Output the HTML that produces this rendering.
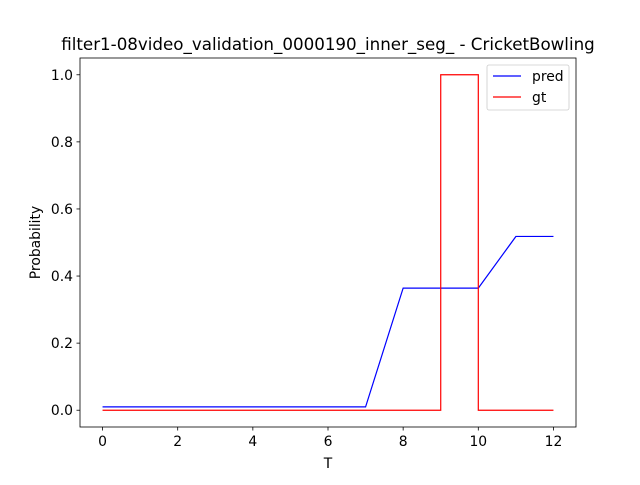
<!DOCTYPE html>
<html><head><meta charset="utf-8"><style>
body{margin:0;background:#fff;}
svg text{font-family:"DejaVu Sans","Liberation Sans",sans-serif;}
</style></head><body>
<svg id="chart" width="640" height="480" xmlns="http://www.w3.org/2000/svg">
<rect width="640" height="480" fill="#fff"/>
<text x="328" y="50" font-size="16.7" text-anchor="middle">filter1-08video_validation_0000190_inner_seg_ - CricketBowling</text>
<g id="plot"></g>
<rect x="80" y="58" width="496" height="369" fill="none" stroke="#000" stroke-width="0.8"/>
<text x="328" y="468" font-size="13.9" text-anchor="middle">T</text>
<text transform="translate(40,242.5) rotate(-90)" font-size="13.9" text-anchor="middle">Probability</text>
<g>
<rect x="487" y="65" width="82" height="45" rx="2" fill="#fff" fill-opacity="0.8" stroke="#ccc" stroke-width="0.8"/>
<line x1="493" y1="76" x2="521" y2="76" stroke="blue" stroke-width="1.2"/>
<text x="532" y="81" font-size="13.9">pred</text>
<line x1="493" y1="97" x2="521" y2="97" stroke="red" stroke-width="1.2"/>
<text x="532" y="102" font-size="13.9">gt</text>
</g>
</svg>
<script>
const predX=[0,1,2,3,4,5,6,7,8,9,10,11,12];
const predY=[0.01,0.01,0.01,0.01,0.01,0.01,0.01,0.01,0.364,0.364,0.364,0.518,0.518];
const gtX=[0,1,2,3,4,5,6,7,8,9,9,10,10,11,12];
const gtY=[0,0,0,0,0,0,0,0,0,0,1,1,0,0,0];
const xTicks=[0,2,4,6,8,10,12];
const yTicks=[0,0.2,0.4,0.6,0.8,1.0];
const X0=80,X1=576,Y0=427,Y1=58,xmin=-0.6,xmax=12.6,ymin=-0.05,ymax=1.05;
const sx=v=>X0+(v-xmin)/(xmax-xmin)*(X1-X0);
const sy=v=>Y0-(v-ymin)/(ymax-ymin)*(Y0-Y1);
const NS="http://www.w3.org/2000/svg";
const g=document.getElementById('plot');
function mk(t,a){const e=document.createElementNS(NS,t);for(const k in a)e.setAttribute(k,a[k]);g.appendChild(e);return e;}
xTicks.forEach(t=>{
 const l=mk('line',{x1:sx(t),x2:sx(t),y1:Y0,y2:Y0+3.5,stroke:'#000','stroke-width':0.8});
 
 
 const tx=mk('text',{x:sx(t),y:Y0+19,'font-size':13.9,'text-anchor':'middle'});tx.textContent=t;
 
 
});
yTicks.forEach(t=>{
 const l=mk('line',{x1:X0-3.5,x2:X0,y1:sy(t),y2:sy(t),stroke:'#000','stroke-width':0.8});
 
 
 const tx=mk('text',{x:X0-7,y:sy(t)+5,'font-size':13.9,'text-anchor':'end'});tx.textContent=t.toFixed(1);
 
 
});
const p1=mk('polyline',{points:predX.map((x,i)=>sx(x)+','+sy(predY[i])).join(' '),fill:'none',stroke:'blue','stroke-width':1.2});


const p2=mk('polyline',{points:gtX.map((x,i)=>sx(x)+','+sy(gtY[i])).join(' '),fill:'none',stroke:'red','stroke-width':1.2});


</script>
</body></html>
